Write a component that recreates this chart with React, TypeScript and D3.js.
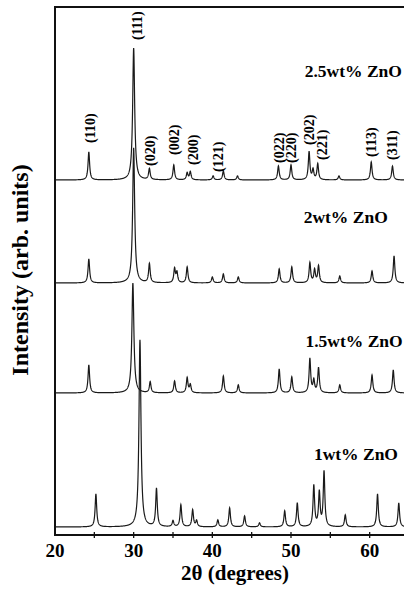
import * as d3 from 'd3';
import React, {useEffect, useRef} from "react";

// peak lists: [2θ, height above own baseline]
const peaks25 = [[24.3, 28], [30.0, 132], [32.0, 11], [35.1, 15], [36.8, 7], [37.2, 8], [40.1, 4], [41.4, 9],
  [43.2, 4], [48.4, 14], [50.0, 15], [52.3, 28], [52.8, 10], [53.4, 16], [56.1, 4], [60.2, 18], [62.9, 14]];
const peaks20 = [[24.3, 24], [30.0, 135], [32.0, 19], [35.2, 14], [35.5, 10], [36.8, 16], [40.0, 6], [41.4, 9],
  [43.3, 6], [48.5, 14], [50.1, 16], [52.4, 20], [53.0, 13], [53.5, 17], [56.2, 7], [60.3, 12], [63.1, 27]];
const peaks15 = [[24.3, 28], [29.9, 110], [32.1, 11], [35.2, 12], [36.8, 15], [37.2, 8], [41.4, 17], [43.3, 8],
  [48.5, 24], [50.1, 16], [52.4, 34], [52.9, 12], [53.5, 25], [56.2, 8], [60.3, 18], [63.0, 23]];
const peaks10 = [[25.2, 33], [30.8, 187], [32.9, 38], [35.0, 6], [36.0, 22], [37.5, 17], [38.0, 6], [40.7, 7],
  [42.2, 19], [44.1, 11], [46.0, 4], [49.2, 16], [50.8, 24], [52.9, 41], [53.6, 34], [54.2, 55], [56.9, 12],
  [61.0, 33], [63.7, 24]];

const sampleNames = ["2.5wt% ZnO", "2wt% ZnO", "1.5wt% ZnO", "1wt% ZnO"];
const sampleOffsets = [355, 252, 142, 8];      // baseline of each pattern, intensity units
const sampleLabelAt = [[64.1, 458], [62.3, 312], [64.2, 188], [63.6, 75]]; // [2θ at right end, intensity]

// Miller indices over the 2.5wt% pattern: [label, 2θ, intensity of text start]
const hkl = [["(110)", 24.4, 392], ["(111)", 30.4, 495], ["(020)", 32.1, 369], ["(002)", 35.1, 380],
  ["(200)", 37.5, 370], ["(121)", 40.7, 363], ["(022)", 48.5, 372], ["(220)", 50.0, 372], ["(202)", 52.3, 390],
  ["(221)", 54.0, 375], ["(113)", 60.2, 378], ["(311)", 62.8, 375]];

const xTickLabels = [20, 30, 40, 50, 60];

const FONT = "'Liberation Serif', 'Times New Roman', serif";

function profile(peaks, offset) {
  const pts = [];
  for (let t = 20; t <= 65.0001; t += 0.02) {
    let v = offset;
    for (const [c, h] of peaks) {
      const w = h > 80 ? 0.15 : 0.12; // half width at half max
      const u = (t - c) / w;
      v += h / (1 + u * u);
    }
    pts.push([t, v]);
  }
  return pts;
}

export default function App() {
  const node = useRef(null);

  useEffect(() => {
    const width = 404, height = 589;
    const svg = d3.select(node.current);
    svg.selectAll("*").remove();

    const x = d3.scaleLinear().domain([20, 65]).range([55, 409]);
    const y = d3.scaleLinear().domain([0, 528]).range([535, 7]);

    const line = d3.line().x(d => x(d[0])).y(d => y(d[1]));
    const all = [peaks25, peaks20, peaks15, peaks10];

    svg.append("g")
        .selectAll("path")
        .data(all)
        .join("path")
        .attr("d", (p, i) => line(profile(p, sampleOffsets[i])))
        .attr("fill", "none")
        .attr("stroke", "#1a1a1a")
        .attr("stroke-width", 1.2);

    // frame
    svg.append("path")
        .attr("d", `M${x(65) + 5},${y(528)}H${x(20)}V${y(0)}H${x(65) + 5}`)
        .attr("fill", "none")
        .attr("stroke", "#111")
        .attr("stroke-width", 2);

    // ticks every 5 degrees
    svg.append("g")
        .selectAll("line")
        .data(d3.range(25, 65, 5))
        .join("line")
        .attr("x1", d => x(d)).attr("x2", d => x(d))
        .attr("y1", y(0) - 3).attr("y2", y(0) + 3)
        .attr("stroke", "#111").attr("stroke-width", 1.3);

    svg.append("g")
        .selectAll("text")
        .data(xTickLabels)
        .join("text")
        .attr("x", d => x(d)).attr("y", 557)
        .attr("text-anchor", "middle")
        .attr("font-family", FONT).attr("font-weight", "bold").attr("font-size", 19)
        .text(d => d);

    svg.append("text")
        .attr("x", 235).attr("y", 580)
        .attr("text-anchor", "middle")
        .attr("font-family", FONT).attr("font-weight", "bold").attr("font-size", 21)
        .text("2θ (degrees)");

    svg.append("text")
        .attr("transform", "translate(28,270) rotate(-90)")
        .attr("text-anchor", "middle")
        .attr("font-family", FONT).attr("font-weight", "bold").attr("font-size", 24)
        .text("Intensity (arb. units)");

    svg.append("g")
        .selectAll("text")
        .data(sampleNames)
        .join("text")
        .attr("x", (d, i) => x(sampleLabelAt[i][0]))
        .attr("y", (d, i) => y(sampleLabelAt[i][1]))
        .attr("text-anchor", "end")
        .attr("font-family", FONT).attr("font-weight", "bold").attr("font-size", 17.5)
        .text(d => d);

    svg.append("g")
        .selectAll("text")
        .data(hkl)
        .join("text")
        .attr("transform", d => `translate(${x(d[1])},${y(d[2])}) rotate(-90)`)
        .attr("dy", "0.35em")
        .attr("font-family", FONT).attr("font-weight", "bold").attr("font-size", 14)
        .text(d => d[0]);

    svg.attr("width", width).attr("height", height);
  }, []);

  return (
      <svg ref={node} style={{position: "absolute", left: 0, top: 0, background: "#fff"}}/>
  );
}
